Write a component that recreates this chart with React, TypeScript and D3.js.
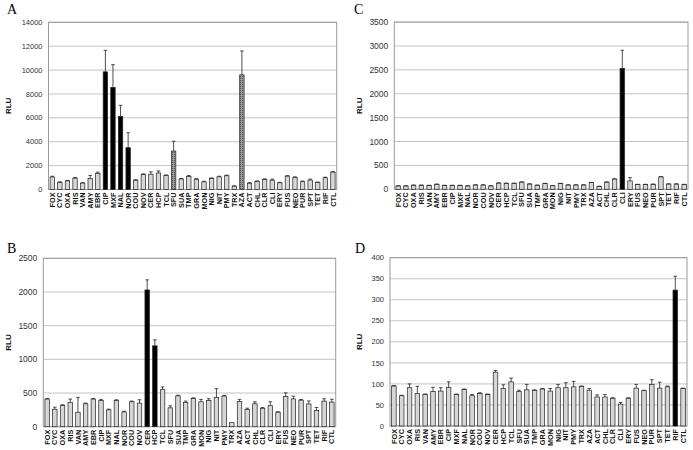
import React from 'react';
import * as d3 from 'd3';

const categories = [
    'FOX', 'CYC', 'OXA', 'RIS', 'VAN', 'AMY', 'EBR', 'CIP', 'MXF', 'NAL',
    'NOR', 'COU', 'NOV', 'CER', 'HCP', 'TCL', 'SFU', 'SUA', 'TMP', 'GRA',
    'MON', 'NIG', 'NIT', 'PMY', 'TRX', 'AZA', 'ACT', 'CHL', 'CLR', 'CLI',
    'ERY', 'FUS', 'NEO', 'PUR', 'SPT', 'TET', 'RIF', 'CTL'
];

// panel A
const valuesA = [
    1050, 600, 720, 950, 540, 930, 1330, 9850, 8550, 6100,
    3500, 780, 1250, 1280, 1380, 1180, 3220, 880, 1100, 860,
    640, 930, 1060, 1150, 280, 9600, 530, 680, 840, 780,
    560, 1120, 1000, 650, 790, 590, 980, 1460
];
const errorsA = [
    60, 40, 40, 50, 30, 250, 120, 1800, 1900, 950,
    1250, 40, 60, 200, 170, 40, 820, 40, 70, 50,
    50, 40, 50, 50, 30, 2000, 40, 40, 50, 90,
    40, 40, 60, 60, 80, 30, 50, 30
];
const ticksA = [0, 2000, 4000, 6000, 8000, 10000, 12000, 14000];
const blackA = ['CIP', 'MXF', 'NAL', 'NOR'];
const shadedA = ['SFU', 'AZA'];

// panel B
const valuesB = [
    410, 260, 315, 360, 215, 340, 410, 390, 250, 390,
    220, 370, 350, 2030, 1200, 550, 280, 457, 360, 418,
    370, 390, 435, 455, 60, 375, 255, 340, 274, 312,
    216, 447, 413, 394, 337, 240, 380, 365
];
const errorsB = [
    10, 30, 10, 50, 220, 10, 10, 15, 10, 10,
    10, 10, 50, 150, 90, 40, 30, 10, 20, 10,
    35, 25, 130, 10, 0, 30, 20, 30, 10, 58,
    5, 55, 40, 10, 45, 45, 35, 42
];
const ticksB = [0, 500, 1000, 1500, 2000, 2500];
const blackB = ['CER', 'HCP'];

// panel C
const valuesC = [
    70, 70, 85, 85, 80, 105, 80, 80, 80, 70,
    90, 90, 70, 130, 125, 125, 150, 110, 85, 120,
    75, 120, 90, 90, 90, 140, 60, 150, 215, 2530,
    175, 100, 100, 105, 260, 110, 110, 100
];
const errorsC = [
    5, 5, 5, 5, 5, 5, 5, 5, 5, 5,
    5, 5, 5, 5, 5, 5, 5, 5, 5, 5,
    5, 5, 5, 5, 5, 5, 5, 5, 5, 380,
    70, 5, 5, 5, 5, 5, 5, 5
];
const ticksC = [0, 500, 1000, 1500, 2000, 2500, 3000, 3500];
const blackC = ['CLI'];

// panel D
const valuesD = [
    95, 72, 91, 77, 75, 82, 83, 92, 75, 87,
    72, 77, 75, 128, 89, 105, 82, 86, 85, 88,
    83, 91, 91, 93, 94, 85, 69, 69, 66, 52,
    66, 90, 84, 99, 90, 93, 323, 89
];
const errorsD = [
    1, 1, 9, 17, 1, 10, 8, 13, 1, 1,
    3, 2, 1, 4, 9, 9, 3, 13, 1, 1,
    6, 8, 12, 13, 1, 4, 5, 6, 1, 4,
    1, 9, 1, 11, 14, 2, 33, 1
];
const ticksD = [0, 50, 100, 150, 200, 250, 300, 350, 400];
const blackD = ['RIF'];

const FONT = '"Liberation Sans", Arial, sans-serif';

function Panel({ letter, box, ticks, values, errors, black, shaded = [], tickSize, letterPos, rluX }) {
    const x = d3.scaleBand()
        .domain(categories)
        .range([box.left, box.right])
        .paddingInner(0.42)
        .paddingOuter(0.21);
    const y = d3.scaleLinear()
        .domain([0, ticks[ticks.length - 1]])
        .range([box.bottom, box.top]);
    const bw = x.bandwidth();

    return (
        <g>
            <text x={letterPos[0]} y={letterPos[1]} fontFamily='"Liberation Serif", "Times New Roman", serif' fontSize={14}>
                {letter}
            </text>

            {ticks.map(t => (
                <g key={t}>
                    <line x1={box.left} x2={box.right} y1={y(t)} y2={y(t)} stroke="#c4c4c4" strokeWidth={1} />
                    <text x={box.left - 6} y={y(t)} dy="0.35em" textAnchor="end" fontFamily={FONT} fontSize={tickSize} fill="#333">
                        {t}
                    </text>
                </g>
            ))}
            <rect x={box.left} y={box.top} width={box.right - box.left} height={box.bottom - box.top}
                fill="none" stroke="#9a9a9a" strokeWidth={1} />

            {categories.map((c, i) => {
                const fill = black.includes(c) ? '#000' : shaded.includes(c) ? 'url(#dots)' : '#d6d6d6';
                const v = values[i];
                const top = y(v + errors[i]);
                const cx = x(c) + bw / 2;
                return (
                    <g key={c}>
                        <rect x={x(c)} y={y(v)} width={bw} height={box.bottom - y(v)} fill={fill} stroke="#222" strokeWidth={0.7} />
                        {errors[i] > 0 && (
                            <g stroke="#222" strokeWidth={0.8}>
                                <line x1={cx} x2={cx} y1={y(v)} y2={top} />
                                <line x1={cx - 1.8} x2={cx + 1.8} y1={top} y2={top} />
                            </g>
                        )}
                        <text transform={`translate(${cx + 2.6},${box.bottom + 3}) rotate(-90)`} textAnchor="end"
                            fontFamily={FONT} fontWeight="bold" fontSize={7.3} fill="#111">
                            {c}
                        </text>
                    </g>
                );
            })}

            <text transform={`translate(${rluX},${(box.top + box.bottom) / 2}) rotate(-90)`} textAnchor="middle"
                dy="0.35em" fontFamily={FONT} fontWeight="bold" fontSize={8} fill="#111">
                RLU
            </text>
        </g>
    );
}

export default function App() {
    return (
        <svg width={693} height={450} style={{ position: 'absolute', left: 0, top: 0, background: '#fff' }}>
            <defs>
                <pattern id="dots" width="2" height="2" patternUnits="userSpaceOnUse">
                    <rect width="2" height="2" fill="#9a9a9a" />
                    <rect width="1" height="1" fill="#555" />
                </pattern>
            </defs>
            <Panel letter="A" box={{ left: 48.5, right: 336.7, top: 22.3, bottom: 189.5 }} ticks={ticksA}
                values={valuesA} errors={errorsA} black={blackA} shaded={shadedA}
                tickSize={7.5} letterPos={[7, 14]} rluX={8} />
            <Panel letter="B" box={{ left: 43.3, right: 335.7, top: 258.3, bottom: 426.7 }} ticks={ticksB}
                values={valuesB} errors={errorsB} black={blackB}
                tickSize={8.5} letterPos={[7, 253]} rluX={8} />
            <Panel letter="C" box={{ left: 394.3, right: 688, top: 22.1, bottom: 189.3 }} ticks={ticksC}
                values={valuesC} errors={errorsC} black={blackC}
                tickSize={8.5} letterPos={[354, 14]} rluX={359} />
            <Panel letter="D" box={{ left: 390, right: 687, top: 257.7, bottom: 426 }} ticks={ticksD}
                values={valuesD} errors={errorsD} black={blackD}
                tickSize={7.5} letterPos={[355, 253]} rluX={359} />
        </svg>
    );
}
